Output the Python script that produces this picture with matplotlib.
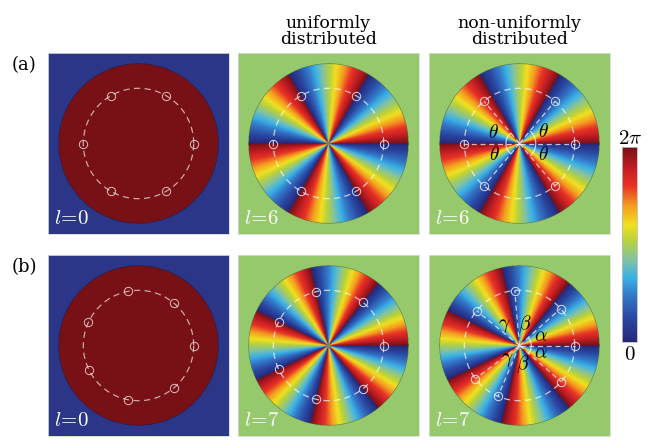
import numpy as np
import matplotlib.pyplot as plt
from matplotlib.colors import LinearSegmentedColormap
from matplotlib.patches import Arc

plt.rcParams['mathtext.fontset'] = 'cm'
plt.rcParams['font.family'] = 'DejaVu Serif'

# topological charge of each panel (rows a, b)
charges = [[0, 6, 6], [0, 7, 7]]

# angular positions (deg) of the sampling points on the ring
angles_a = [[0, 60, 120, 180, 240, 300],
            [0, 60, 120, 180, 240, 300],
            [0, 50, 130, 180, 230, 310]]
angles_b = [[0, 50, 101, 155, 206, 259, 310],
            [0, 51.4, 102.9, 154.3, 205.7, 257.1, 308.6],
            [0, 42, 95, 141, 217, 247, 319]]
sample_angles = [angles_a, angles_b]

row_labels = ['(a)', '(b)']
col_titles = ['', 'uniformly\ndistributed', 'non-uniformly\ndistributed']

phase_cmap = LinearSegmentedColormap.from_list('phase', [
    (0.00, '#25277a'), (0.12, '#2a48a2'), (0.24, '#3479c9'),
    (0.33, '#3ab2e6'), (0.42, '#80c2a4'), (0.52, '#b8d13c'),
    (0.60, '#f0e020'), (0.70, '#f49c20'), (0.80, '#e83325'),
    (0.90, '#bf1c24'), (1.00, '#781116')])

W, H = 647, 441
R_DISK = 0.884
R_RING = 0.61


def fx(px):
    return px / W


def fy(py):
    return 1 - py / H


fig = plt.figure(figsize=(W / 100, H / 100), dpi=100)

n = 500
xs = np.linspace(-1, 1, n)
X, Y = np.meshgrid(xs, xs)
PHI = np.arctan2(Y, X)
RR = np.hypot(X, Y)

col_left = [48, 238, 429]
row_top = [53, 255]
size = 181

for i in range(2):
    for j in range(3):
        ax = fig.add_axes([fx(col_left[j]), fy(row_top[i] + size),
                           size / W, size / H])
        l = charges[i][j]
        if l == 0:
            phase = np.full_like(X, 2 * np.pi)
            bg = '#2c3689'
        else:
            phase = np.mod(-l * PHI, 2 * np.pi)
            bg = '#95c96c'
        phase = np.ma.masked_where(RR > R_DISK, phase)
        ax.set_facecolor(bg)
        ax.imshow(phase, cmap=phase_cmap, vmin=0, vmax=2 * np.pi,
                  origin='lower', extent=[-1, 1, -1, 1],
                  interpolation='bilinear')

        # dashed sampling ring and sampling points
        t = np.linspace(0, 2 * np.pi, 400)
        ring_col = '#f4e6e0' if l == 0 else 'white'
        ax.plot(R_RING * np.cos(t), R_RING * np.sin(t), color=ring_col,
                alpha=0.7, lw=0.9, ls=(0, (5, 3.5)))
        ang = np.deg2rad(sample_angles[i][j])
        px = R_RING * np.cos(ang)
        py = R_RING * np.sin(ang)
        if j == 2:
            for a, b in zip(px, py):
                ax.plot([0, a], [0, b], color='white', alpha=0.7,
                        lw=0.9, ls=(0, (4, 3)))
        ax.plot(px, py, 'o', mfc='none', mec=ring_col, mew=0.7, ms=6,
                alpha=0.8)

        ax.text(-0.93, -0.93, r'$l\!=\!%d$' % l, color='white',
                fontsize=15, ha='left', va='bottom')
        ax.set_xlim(-1, 1)
        ax.set_ylim(-1, 1)
        ax.set_xticks([])
        ax.set_yticks([])
        for s in ax.spines.values():
            s.set_color('#d6dcd2')
            s.set_linewidth(0.6)

        if i == 0 and j == 2:
            th = sample_angles[0][2][1]
            ax.add_patch(Arc((0, 0), 0.3, 0.3, theta1=180 - th,
                             theta2=180 + th, color='white', lw=0.8, alpha=0.8))
            ax.add_patch(Arc((0, 0), 0.36, 0.36, theta1=-th, theta2=th,
                             color='white', lw=0.8, alpha=0.8))
            for (tx, ty) in [(-0.29, 0.12), (-0.28, -0.13),
                             (0.26, 0.13), (0.26, -0.13)]:
                ax.text(tx, ty, r'$\theta$', fontsize=14, ha='center',
                        va='center')
        if i == 1 and j == 2:
            al = sample_angles[1][2][1]
            ax.add_patch(Arc((0, 0), 0.26, 0.26, theta1=-al, theta2=al,
                             color='white', lw=0.8, alpha=0.8))
            for (tx, ty, s) in [(-0.17, 0.21, r'$\gamma$'),
                                (0.06, 0.24, r'$\beta$'),
                                (0.24, 0.10, r'$\alpha$'),
                                (0.24, -0.09, r'$\alpha$'),
                                (-0.13, -0.16, r'$\gamma$'),
                                (0.04, -0.21, r'$\beta$')]:
                ax.text(tx, ty, s, fontsize=14, ha='center', va='center')

    fig.text(fx(24), fy(row_top[i] + 12), row_labels[i], fontsize=13,
             ha='center', va='center')

for j in (1, 2):
    fig.text(fx(col_left[j] + size / 2), fy(48), col_titles[j],
             fontsize=12.5, ha='center', va='bottom', linespacing=0.95)

# colour bar
cax = fig.add_axes([fx(622), fy(342), 15 / W, 195 / H])
sm = plt.cm.ScalarMappable(cmap=phase_cmap,
                           norm=plt.Normalize(0, 2 * np.pi))
cb = fig.colorbar(sm, cax=cax)
cb.set_ticks([])
cb.outline.set_edgecolor('#bbbbbb')
cb.outline.set_linewidth(0.6)
fig.text(fx(630), fy(139), r'$2\pi$', fontsize=15, ha='center', va='center')
fig.text(fx(630), fy(354), r'$0$', fontsize=15, ha='center', va='center')

fig.savefig('out.png', dpi=100)
